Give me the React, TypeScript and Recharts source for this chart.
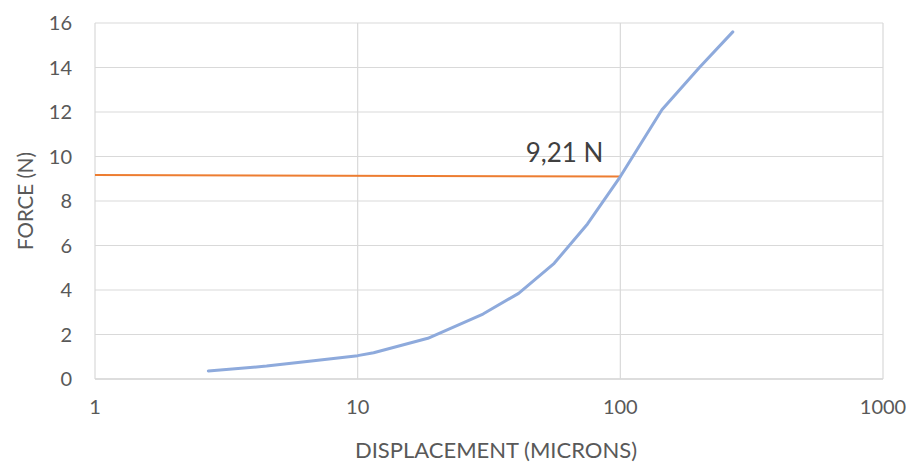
import { LineChart, Line, XAxis, YAxis, CartesianGrid, LabelList } from "recharts";

// Measured curve (log x axis)
const displacement = [2.7, 4.5, 6.8, 10, 11.5, 18.5, 30, 41, 56, 75, 100, 144, 200, 268];
const force = [0.36, 0.58, 0.82, 1.05, 1.18, 1.83, 2.92, 3.85, 5.2, 6.97, 9.1, 12.1, 14.0, 15.6];

// Threshold line
const thresholdX = [1, 100];
const thresholdY = [9.17, 9.1];
const thresholdLabel = "9,21 N";

const xTicks = [1, 10, 100, 1000];
const yTicks = [0, 2, 4, 6, 8, 10, 12, 14, 16];

const curveData = displacement.map((x, i) => ({ x, y: force[i] }));
const thresholdData = thresholdX.map((x, i) => ({ x, y: thresholdY[i] }));

const FONT = "Lato, 'Liberation Sans', sans-serif";
const TICK_COLOR = "#595959";

// Label only on the end point of the threshold line
const ThresholdLabel = (props: any) => {
  const { x, y, index } = props;
  if (index !== thresholdData.length - 1) return null;
  return (
    <text x={x - 17} y={y - 15} textAnchor="end" fontSize={26} fill="#404040" fontFamily={FONT}>
      {thresholdLabel}
    </text>
  );
};

export default function App() {
  return (
    <div style={{ width: 898, height: 454, background: "#fff" }}>
      <LineChart width={898} height={454} margin={{ top: 15, right: 23, left: 0, bottom: 0 }}>
        <CartesianGrid stroke="#d9d9d9" strokeWidth={1.2} />
        <XAxis
          dataKey="x"
          type="number"
          scale="log"
          domain={[1, 1000]}
          ticks={xTicks}
          allowDataOverflow
          height={83}
          tickLine={false}
          axisLine={{ stroke: "#d9d9d9", strokeWidth: 1.5 }}
          tickSize={6}
          tickMargin={15}
          tick={{ fontSize: 20, fill: TICK_COLOR, fontFamily: FONT }}
          label={{
            content: (p: any) => {
              const vb = p.viewBox;
              return (
                <text
                  x={vb.x + vb.width / 2 + 7}
                  y={vb.y + 79}
                  textAnchor="middle"
                  fontSize={22}
                  fill={TICK_COLOR}
                  fontFamily={FONT}
                >
                  DISPLACEMENT (MICRONS)
                </text>
              );
            },
          }}
        />
        <YAxis
          type="number"
          domain={[0, 16]}
          ticks={yTicks}
          width={87}
          tickLine={false}
          axisLine={false}
          tickSize={6}
          tickMargin={17}
          tick={{ fontSize: 20, fill: TICK_COLOR, fontFamily: FONT }}
          label={{
            content: (p: any) => {
              const vb = p.viewBox;
              const cx = 17;
              const cy = vb.y + vb.height / 2;
              return (
                <text
                  x={cx}
                  y={cy}
                  transform={`rotate(-90, ${cx}, ${cy})`}
                  textAnchor="middle"
                  dominantBaseline="central"
                  fontSize={20.5}
                  fill={TICK_COLOR}
                  fontFamily={FONT}
                >
                  FORCE (N)
                </text>
              );
            },
          }}
        />
        <Line
          data={thresholdData}
          dataKey="y"
          type="linear"
          stroke="#ed7d31"
          strokeWidth={2}
          dot={false}
          isAnimationActive={false}
        >
          <LabelList dataKey="y" content={ThresholdLabel} />
        </Line>
        <Line
          data={curveData}
          dataKey="y"
          type="linear"
          stroke="#8eaadc"
          strokeWidth={3}
          strokeLinejoin="round"
          strokeLinecap="round"
          dot={false}
          isAnimationActive={false}
        />
      </LineChart>
    </div>
  );
}
